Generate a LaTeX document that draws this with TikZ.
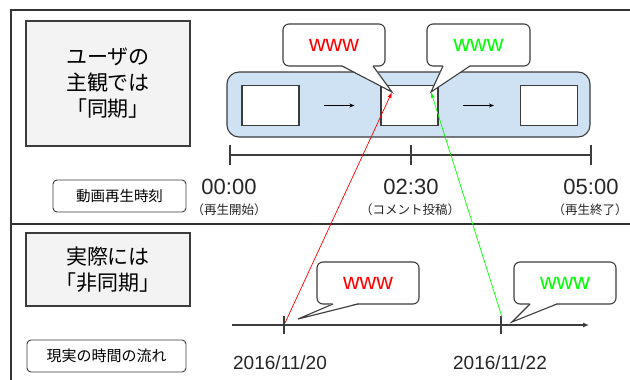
\documentclass[tikz,border=0pt]{standalone}
\usepackage{fontspec}
\setmainfont{Liberation Sans}
\newfontfamily\jp{Noto Sans CJK JP}
\usetikzlibrary{arrows.meta}
\definecolor{framegray}{HTML}{333333}
\definecolor{edgegray}{HTML}{3c3c3c}
\definecolor{boxgray}{HTML}{F3F3F3}
\definecolor{clipblue}{HTML}{CFE2F3}
\definecolor{wred}{HTML}{FF0000}
\definecolor{wgreen}{HTML}{00FF00}
\begin{document}
\begin{tikzpicture}[x=1pt,y=-1pt,
  frameline/.style={draw=framegray,line width=1.3pt},
  graybox/.style={draw=edgegray,line width=1.1pt,fill=boxgray,inner sep=0pt,
    align=center,font=\jp\fontsize{21}{26}\selectfont},
  bluebox/.style={draw=edgegray,line width=1.1pt,fill=clipblue,inner sep=0pt,rounded corners=12pt},
  framebox/.style={draw=edgegray,line width=1.1pt,fill=white,inner sep=0pt,
    minimum width=57pt,minimum height=40pt},
  labbox/.style={draw=edgegray,line width=0.9pt,fill=white,inner sep=0pt,rounded corners=4pt,
    minimum height=32pt,font=\jp\fontsize{14.5}{16}\selectfont},
  bubble/.style={draw=edgegray,line width=1.1pt,fill=white,inner sep=0pt,rounded corners=6pt,
    minimum width=102pt,minimum height=42pt,font=\fontsize{23}{25}\selectfont},
  bubbleline/.style={draw=edgegray,line width=1.1pt,line join=miter},
  timelab/.style={inner sep=0pt,font=\fontsize{22}{24}\selectfont,text=black!85},
  sublab/.style={inner sep=0pt,font=\jp\fontsize{12.5}{14}\selectfont,text=black!85},
  datelab/.style={inner sep=0pt,font=\fontsize{19}{22}\selectfont,text=black!85},
  axis/.style={draw=edgegray,line width=1.1pt},
  smallarrow/.style={draw=black,line width=1pt,-{Stealth[length=5pt,width=4pt]}},
  linkarrow/.style={line width=0.7pt,-{Latex[length=6pt,width=4pt]}}
]
\useasboundingbox (0,0) rectangle (630,380);
\fill[white] (0,0) rectangle (630,380);
% frame
\draw[frameline] (630,10) -- (11,10) -- (11,380);
\draw[frameline] (11,224) -- (630,224);

% upper part
\node[graybox,minimum width=164pt,minimum height=125pt] (subj) at (108,83.5) {ユーザの\\主観では\\「同期」};
\node[bluebox,minimum width=363pt,minimum height=65pt] (clip) at (408.5,104.5) {};
\node[framebox] (f1) at (270.5,105.5) {};
\node[framebox] (f2) at (409.5,105.5) {};
\node[framebox] (f3) at (549,105.5) {};
\draw[smallarrow,shorten <=24pt,shorten >=26pt] (f1) -- (f2);
\draw[smallarrow,shorten <=24pt,shorten >=26pt] (f2) -- (f3);

% top callouts
\coordinate (tipA) at (392,92);
\coordinate (tipB) at (431,92);
\node[bubble,text=wred] (ca) at (334,45) {www};
\fill[white] (342,65.2) -- (tipA) -- (373,65.2) -- cycle;
\draw[bubbleline] (342,66) -- (tipA) -- (373,66);
\node[bubble,text=wgreen,minimum width=103pt] (cb) at (478.5,45) {www};
\fill[white] (443,65.2) -- (tipB) -- (470,65.2) -- cycle;
\draw[bubbleline] (443,66) -- (tipB) -- (470,66);

% playback axis
\coordinate (t0) at (230,155);
\coordinate (t1) at (411,155);
\coordinate (t2) at (591,155);
\draw[axis] (t0) -- (t2);
\draw[axis] (230,145) -- (230,165);
\draw[axis] (411,145) -- (411,165);
\draw[axis] (591,145) -- (591,165);
\node[timelab] (l0) at (229,187) {00:00};
\node[timelab] (l1) at (411,187) {02:30};
\node[timelab] (l2) at (591,187) {05:00};
\node[sublab] (s0) at (229,210) {（再生開始）};
\node[sublab] (s1) at (410,210) {（コメント投稿）};
\node[sublab] (s2) at (590,210) {（再生終了）};
\node[labbox,minimum width=133pt] (lb1) at (119.5,196) {動画再生時刻};

% lower part
\node[graybox,minimum width=164pt,minimum height=73pt] (real) at (108,269.5) {実際には\\「非同期」};
\node[labbox,minimum width=159pt,font=\jp\fontsize{15}{16}\selectfont] (lb2) at (106.5,356) {現実の時間の流れ};

\coordinate (b0) at (232,325);
\coordinate (b1) at (589,325);
\draw[axis,-{Latex[length=6pt,width=5pt]}] (b0) -- (b1);
\coordinate (d20) at (284,325);
\coordinate (d22) at (501,325);
\draw[axis] (284,316) -- (284,334);
\draw[axis] (501,316) -- (501,334);
\node[datelab] (dl0) at (280,363) {2016/11/20};
\node[datelab] (dl1) at (500,363) {2016/11/22};

% bottom callouts
\coordinate (tipC) at (298,319);
\coordinate (tipD) at (512,322);
\node[bubble,text=wred] (cc) at (368,283) {www};
\fill[white] (333,303.2) -- (tipC) -- (358,303.2) -- cycle;
\draw[bubbleline] (333,304) -- (tipC) -- (358,304);
\node[bubble,text=wgreen] (cd) at (565,283) {www};
\fill[white] (530,303.2) -- (tipD) -- (557,303.2) -- cycle;
\draw[bubbleline] (530,304) -- (tipD) -- (557,304);

% links
\coordinate (rs) at (285,323);
\coordinate (gs) at (502,317);
\draw[linkarrow,wred] (rs) -- (tipA);
\draw[linkarrow,wgreen] (gs) -- (tipB);
\end{tikzpicture}
\end{document}
